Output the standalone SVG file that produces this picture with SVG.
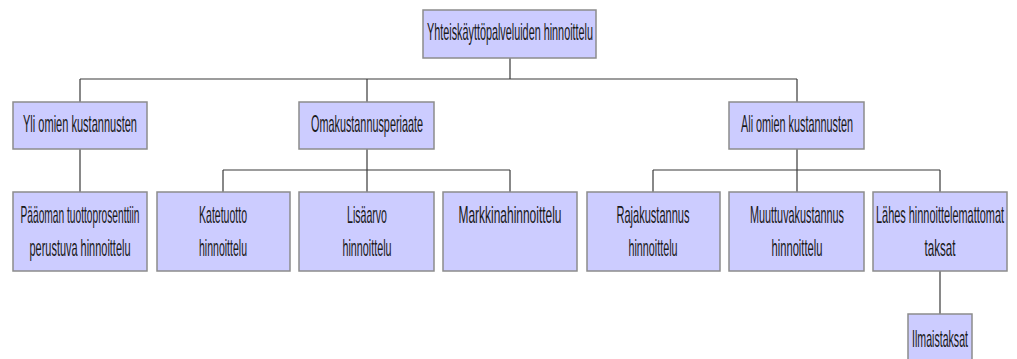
<svg xmlns="http://www.w3.org/2000/svg" width="1017" height="359" viewBox="0 0 1017 359">
  <style>
    .box { fill: #ccccff; stroke: #8c8c8c; stroke-width: 1.5; }
    .lbl { font-family: "Liberation Sans", Arial, sans-serif; font-size: 23px; fill: #1a1a1a; text-anchor: middle; }
    .wire { fill: none; stroke: #3a3a3a; stroke-width: 1.2; }
  </style>
  <rect width="1017" height="359" fill="#ffffff"/>

  <!-- connectors -->
  <g id="connectors">
    <path class="wire" d="M510 58 V79 M80 79 H797 M80 79 V102 M367 79 V102 M797 79 V102"/>
    <path class="wire" d="M80 149 V192"/>
    <path class="wire" d="M367 149 V192 M223 170 H510 M223 170 V192 M510 170 V192"/>
    <path class="wire" d="M797 149 V192 M653 170 H940 M653 170 V192 M940 170 V192"/>
    <path class="wire" d="M940 271 V314"/>
  </g>

  <!-- labels use a condensed look: half-width horizontal scale, lengths in local units -->
  <g id="root">
    <rect class="box" x="423" y="10" width="173" height="48"/>
    <text class="lbl" transform="translate(510 40) scale(0.5 1)" textLength="332" lengthAdjust="spacingAndGlyphs">Yhteiskäyttöpalveluiden hinnoittelu</text>
  </g>

  <g id="yli">
    <rect class="box" x="13" y="102" width="134" height="47"/>
    <text class="lbl" transform="translate(80 132) scale(0.5 1)" textLength="228" lengthAdjust="spacingAndGlyphs">Yli omien kustannusten</text>
  </g>

  <g id="omakustannus">
    <rect class="box" x="299" y="102" width="135" height="47"/>
    <text class="lbl" transform="translate(367 132) scale(0.5 1)" textLength="224" lengthAdjust="spacingAndGlyphs">Omakustannusperiaate</text>
  </g>

  <g id="ali">
    <rect class="box" x="729" y="102" width="135" height="47"/>
    <text class="lbl" transform="translate(797 132) scale(0.5 1)" textLength="224" lengthAdjust="spacingAndGlyphs">Ali omien kustannusten</text>
  </g>

  <g id="paaoman">
    <rect class="box" x="13" y="192" width="134" height="79"/>
    <text class="lbl" transform="translate(80 223) scale(0.5 1)" textLength="238" lengthAdjust="spacingAndGlyphs">Pääoman tuottoprosenttiin</text>
    <text class="lbl" transform="translate(80 256) scale(0.5 1)" textLength="202" lengthAdjust="spacingAndGlyphs">perustuva hinnoittelu</text>
  </g>

  <g id="katetuotto">
    <rect class="box" x="157" y="192" width="133" height="79"/>
    <text class="lbl" transform="translate(223 223) scale(0.5 1)" textLength="96" lengthAdjust="spacingAndGlyphs">Katetuotto</text>
    <text class="lbl" transform="translate(223 256) scale(0.5 1)" textLength="96" lengthAdjust="spacingAndGlyphs">hinnoittelu</text>
  </g>

  <g id="lisaarvo">
    <rect class="box" x="299" y="192" width="135" height="79"/>
    <text class="lbl" transform="translate(367 223) scale(0.5 1)" textLength="80" lengthAdjust="spacingAndGlyphs">Lisäarvo</text>
    <text class="lbl" transform="translate(367 256) scale(0.5 1)" textLength="98" lengthAdjust="spacingAndGlyphs">hinnoittelu</text>
  </g>

  <g id="markkina">
    <rect class="box" x="443" y="192" width="134" height="79"/>
    <text class="lbl" transform="translate(510 223) scale(0.5 1)" textLength="206" lengthAdjust="spacingAndGlyphs">Markkinahinnoittelu</text>
  </g>

  <g id="rajakustannus">
    <rect class="box" x="587" y="192" width="133" height="79"/>
    <text class="lbl" transform="translate(653 223) scale(0.5 1)" textLength="146" lengthAdjust="spacingAndGlyphs">Rajakustannus</text>
    <text class="lbl" transform="translate(653 256) scale(0.5 1)" textLength="98" lengthAdjust="spacingAndGlyphs">hinnoittelu</text>
  </g>

  <g id="muuttuva">
    <rect class="box" x="729" y="192" width="135" height="79"/>
    <text class="lbl" transform="translate(797 223) scale(0.5 1)" textLength="188" lengthAdjust="spacingAndGlyphs">Muuttuvakustannus</text>
    <text class="lbl" transform="translate(797 256) scale(0.5 1)" textLength="102" lengthAdjust="spacingAndGlyphs">hinnoittelu</text>
  </g>

  <g id="lahes">
    <rect class="box" x="873" y="192" width="134" height="79"/>
    <text class="lbl" transform="translate(940 223) scale(0.5 1)" textLength="256" lengthAdjust="spacingAndGlyphs">Lähes hinnoittelemattomat</text>
    <text class="lbl" transform="translate(940 256) scale(0.5 1)" textLength="62" lengthAdjust="spacingAndGlyphs">taksat</text>
  </g>

  <g id="ilmaistaksat">
    <rect class="box" x="908" y="314" width="64" height="52"/>
    <text class="lbl" transform="translate(940 347) scale(0.5 1)" textLength="112" lengthAdjust="spacingAndGlyphs">Ilmaistaksat</text>
  </g>
</svg>
